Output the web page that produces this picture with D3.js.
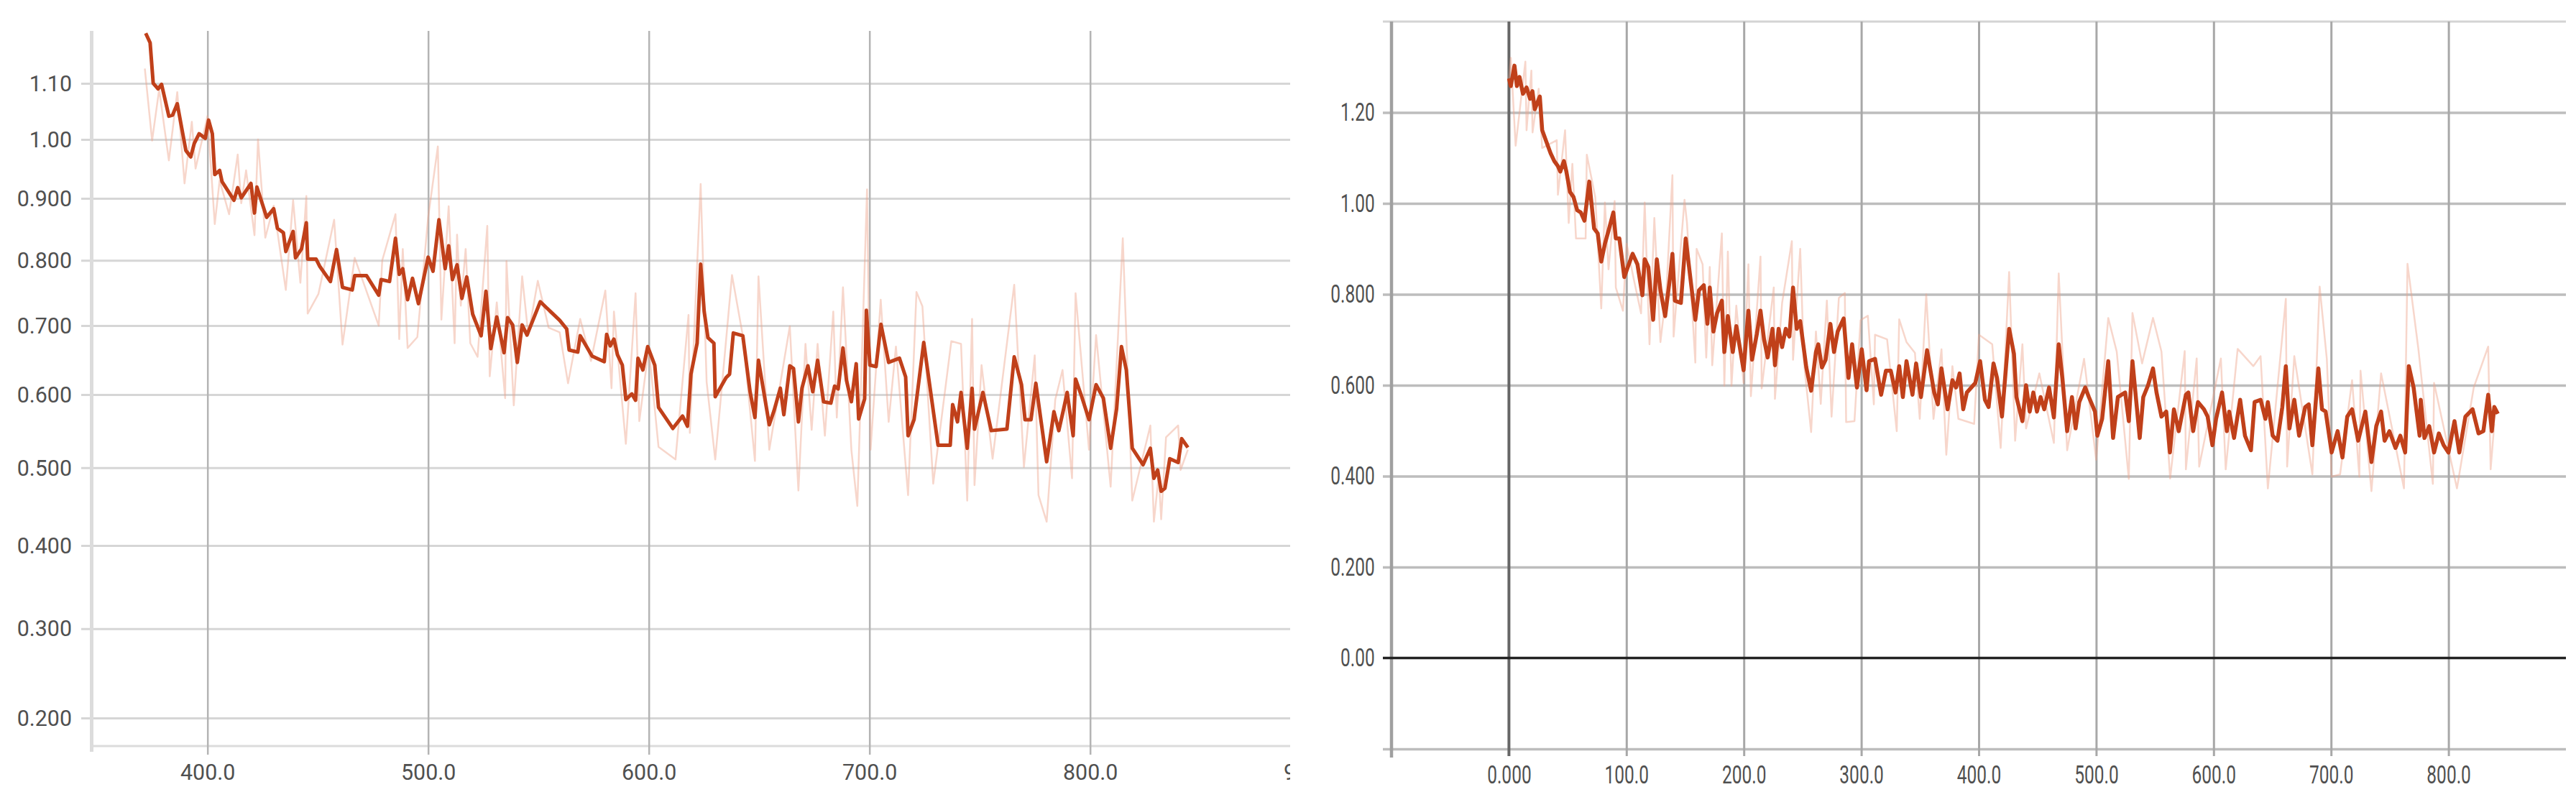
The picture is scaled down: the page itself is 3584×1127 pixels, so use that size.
<!DOCTYPE html>
<html>
<head>
<meta charset="utf-8">
<script src="https://cdn.jsdelivr.net/npm/d3@7"></script>
<style>
  body { margin: 0; background: #fff; }
  svg { display: block; }
</style>
</head>
<body>
<div class="visHolder"></div>
<script>
const width = 3584;
const height = 1127;

// ---- left panel: run on a modified-log y axis ----
const leftXTicks = [400, 500, 600, 700, 800, 900];
const leftYTicks = [0.2, 0.3, 0.4, 0.5, 0.6, 0.7, 0.8, 0.9, 1.0, 1.1];

const leftSteps = [372, 374, 375.4, 377.6, 379.2, 382.5, 384.2, 386.3, 390.2, 392.4, 394, 396.2, 399, 400.5, 402.2, 403.3, 405.5, 406.6, 412, 413.7, 415.3, 419.7, 421.3, 422.4, 426.8, 430, 431.7, 434.4, 435.5, 438.8, 439.9, 442.6, 444.8, 445.4, 449.2, 450.8, 455.7, 458.5, 461.2, 465.6, 466.7, 472.1, 477.6, 478.7, 482.5, 485.2, 486.9, 488.5, 490.7, 492.9, 495.6, 500, 502.2, 504.9, 507.7, 509.3, 511, 513.1, 515.3, 517.5, 520.2, 524, 526.2, 528.4, 531.1, 534.4, 536, 538.3, 540.4, 542.6, 544.8, 550.8, 559.6, 562.8, 563.9, 567.8, 568.9, 574.3, 579.8, 580.9, 582.5, 584.2, 585.8, 588, 589.6, 592.3, 594, 595.1, 597.3, 599.5, 602.7, 604.4, 610.9, 615.3, 617.5, 619.1, 621.9, 623.5, 625.1, 626.8, 629.5, 630.1, 635, 636.6, 638.3, 642.6, 645.9, 648.1, 649.7, 654.6, 656.8, 659.6, 661.2, 663.9, 665.6, 667.8, 669.4, 672.1, 674.3, 676.5, 679.2, 682.5, 684.2, 685.8, 688, 689.6, 691.8, 694, 695.1, 697.8, 698.6, 700.2, 703, 705.2, 708.7, 713.6, 716.4, 717.5, 720.2, 724.6, 731.1, 736.6, 737.7, 739.9, 741.5, 744.3, 746.5, 747.6, 751.4, 755.2, 762.3, 765.6, 768.9, 770.5, 773.2, 775.4, 780.3, 783.6, 785.8, 788, 789.6, 792.3, 793.4, 796.2, 799.5, 802.7, 806, 809.3, 812, 814.2, 816.4, 819.1, 824, 827.3, 828.9, 830.6, 832.2, 833.9, 836.1, 839.9, 841.5, 844.3];
const leftSmooth = [1.193, 1.175, 1.100, 1.090, 1.098, 1.041, 1.043, 1.063, 0.981, 0.970, 0.993, 1.010, 1.002, 1.034, 1.010, 0.940, 0.947, 0.928, 0.897, 0.918, 0.901, 0.925, 0.876, 0.919, 0.869, 0.883, 0.851, 0.844, 0.814, 0.846, 0.804, 0.818, 0.860, 0.802, 0.802, 0.791, 0.767, 0.817, 0.758, 0.754, 0.776, 0.776, 0.746, 0.770, 0.767, 0.835, 0.778, 0.787, 0.739, 0.772, 0.733, 0.805, 0.783, 0.865, 0.787, 0.823, 0.770, 0.793, 0.741, 0.774, 0.717, 0.685, 0.752, 0.666, 0.713, 0.660, 0.712, 0.701, 0.646, 0.701, 0.686, 0.736, 0.708, 0.695, 0.664, 0.661, 0.685, 0.655, 0.647, 0.687, 0.670, 0.680, 0.657, 0.642, 0.593, 0.601, 0.592, 0.652, 0.635, 0.669, 0.642, 0.582, 0.553, 0.570, 0.556, 0.629, 0.674, 0.794, 0.721, 0.682, 0.674, 0.597, 0.624, 0.629, 0.689, 0.685, 0.604, 0.568, 0.649, 0.558, 0.578, 0.609, 0.572, 0.641, 0.637, 0.562, 0.609, 0.641, 0.604, 0.649, 0.590, 0.588, 0.612, 0.608, 0.667, 0.620, 0.590, 0.644, 0.566, 0.594, 0.723, 0.642, 0.640, 0.702, 0.646, 0.652, 0.625, 0.543, 0.565, 0.675, 0.530, 0.530, 0.586, 0.562, 0.603, 0.526, 0.609, 0.552, 0.603, 0.550, 0.552, 0.654, 0.614, 0.565, 0.565, 0.616, 0.508, 0.576, 0.550, 0.580, 0.603, 0.543, 0.622, 0.597, 0.565, 0.614, 0.595, 0.526, 0.580, 0.669, 0.635, 0.526, 0.504, 0.526, 0.486, 0.497, 0.469, 0.473, 0.512, 0.507, 0.539, 0.527];

const leftRawSteps = [371.6, 374.9, 378.1, 382.5, 386.3, 389.6, 392.9, 394.6, 400, 403.3, 405.5, 409.8, 413.7, 415.3, 417.5, 421.3, 422.9, 426.2, 430, 435.5, 438.8, 442.1, 444.8, 445.4, 450.3, 457.4, 461.2, 466.7, 477.6, 479.2, 485.2, 486.9, 488.5, 490.7, 495.1, 500, 504.4, 506, 509.3, 512, 513.1, 514.8, 517, 519.1, 522.4, 526.8, 527.9, 531.1, 534.9, 535.5, 538.8, 542.6, 545.4, 549.7, 554.6, 559.6, 563.4, 568.9, 573.8, 580.3, 583.1, 584.2, 589.6, 594, 595.7, 600, 604.4, 612.1, 618, 618.6, 623.5, 626.2, 630.1, 637.7, 642.6, 648.1, 649.7, 654.6, 663.9, 667.8, 671, 673.8, 676.5, 679.8, 683.6, 685.2, 688, 691.8, 694.5, 698.9, 700.5, 705.1, 708.7, 712, 717.5, 721.3, 724, 728.9, 737.1, 741.5, 744.3, 746.5, 747.6, 750.8, 755.8, 765.6, 770, 774.9, 776.6, 780.3, 784.2, 787.5, 791.8, 793.4, 799.5, 802.7, 809.3, 814.8, 819.1, 827.3, 828.9, 831.1, 832.2, 834.4, 839.9, 841, 844.3];
const leftRaw = [1.127, 0.998, 1.089, 0.964, 1.084, 0.925, 1.031, 0.950, 1.041, 0.858, 0.930, 0.874, 0.974, 0.892, 0.947, 0.840, 1.000, 0.836, 0.888, 0.754, 0.897, 0.765, 0.904, 0.718, 0.748, 0.865, 0.672, 0.804, 0.700, 0.800, 0.874, 0.680, 0.818, 0.667, 0.683, 0.869, 0.988, 0.709, 0.887, 0.674, 0.841, 0.730, 0.818, 0.674, 0.654, 0.855, 0.626, 0.735, 0.595, 0.799, 0.585, 0.775, 0.686, 0.768, 0.697, 0.690, 0.616, 0.710, 0.648, 0.753, 0.609, 0.721, 0.532, 0.749, 0.563, 0.667, 0.528, 0.511, 0.716, 0.547, 0.924, 0.618, 0.511, 0.777, 0.685, 0.509, 0.775, 0.524, 0.699, 0.470, 0.673, 0.551, 0.673, 0.543, 0.721, 0.568, 0.758, 0.524, 0.450, 0.915, 0.524, 0.739, 0.562, 0.669, 0.464, 0.751, 0.729, 0.479, 0.677, 0.673, 0.457, 0.710, 0.477, 0.642, 0.512, 0.762, 0.501, 0.656, 0.464, 0.430, 0.593, 0.635, 0.486, 0.749, 0.524, 0.686, 0.475, 0.835, 0.457, 0.557, 0.430, 0.490, 0.433, 0.541, 0.557, 0.497, 0.524];

// ---- right panel: run from step 0 on a linear y axis ----
const rightXTicks = [0, 100, 200, 300, 400, 500, 600, 700, 800];
const rightYTicks = [0, 0.2, 0.4, 0.6, 0.8, 1.0, 1.2];

const rightSteps = [0, 1.6, 4.7, 6.8, 9, 11.9, 15, 18, 20, 22, 26.3, 28.3, 31.4, 35.5, 38.6, 41.7, 43.7, 46.8, 48.9, 52, 55, 58.1, 61.2, 64.3, 68.4, 72.5, 75.6, 78.6, 81.7, 84.8, 88.9, 91, 94, 98.2, 101.2, 105.3, 109.4, 113.6, 115.6, 118.7, 122.8, 125.9, 129, 133, 137.2, 139.2, 141.3, 146.4, 150.5, 153.6, 158.7, 161.8, 165.9, 169, 171, 174.1, 177.2, 181.3, 183.4, 186.4, 190.6, 193.6, 199.8, 203.9, 207, 211.1, 214.2, 217.2, 220.3, 224.4, 226.5, 229.6, 232.6, 235.7, 238.8, 241.9, 245, 248, 253.2, 257.3, 261.4, 263.4, 266.5, 269.6, 273.7, 276.8, 279.9, 285, 289.1, 292.2, 296.3, 300.4, 304.5, 306.6, 311.7, 316.9, 321, 325.1, 329.2, 332.3, 335.4, 338.5, 343.6, 346.7, 350.8, 356, 362.1, 365.2, 368.3, 373.5, 377.6, 380.7, 383.7, 386.8, 389.9, 397.1, 401.2, 405.3, 408.4, 412.6, 415.6, 419.8, 425.9, 430, 432.1, 437.2, 440.3, 443.4, 446.5, 449.6, 452.7, 455.8, 459.9, 464, 468.1, 471.2, 475.3, 479.4, 482.5, 485.6, 490.7, 493.8, 499, 501, 505.1, 510.3, 514.4, 518.5, 524.7, 527.8, 530.9, 537.1, 540.1, 544.2, 548.4, 551.4, 555.6, 559.7, 562.8, 566.2, 570.3, 576.4, 578.5, 582.6, 586.7, 591.8, 594.9, 599, 602.1, 607.2, 611.3, 613.3, 617.4, 622.6, 626.7, 631.8, 634.9, 640, 644.1, 646.2, 650.3, 654.4, 658.5, 661.5, 664.6, 668.7, 672.8, 678, 681, 684.1, 689.2, 692.3, 695.4, 700.5, 705.6, 709.7, 713.8, 717.9, 723.1, 729.2, 734.4, 738.5, 742.6, 745.6, 749.7, 754.9, 759, 763.1, 766.2, 770.3, 775.4, 776.4, 779.5, 783.6, 787.7, 791.8, 795.9, 800, 805.1, 809.2, 814.4, 820.5, 825.6, 829.7, 833.8, 836.9, 839, 842];
const rightSmooth = [1.275, 1.258, 1.303, 1.258, 1.278, 1.241, 1.255, 1.230, 1.247, 1.207, 1.235, 1.161, 1.139, 1.110, 1.093, 1.082, 1.070, 1.093, 1.070, 1.025, 1.014, 0.985, 0.980, 0.962, 1.048, 0.945, 0.934, 0.872, 0.911, 0.940, 0.980, 0.923, 0.923, 0.838, 0.860, 0.889, 0.866, 0.798, 0.877, 0.860, 0.744, 0.877, 0.809, 0.752, 0.838, 0.889, 0.786, 0.781, 0.923, 0.855, 0.744, 0.809, 0.820, 0.735, 0.815, 0.718, 0.758, 0.786, 0.673, 0.752, 0.673, 0.730, 0.633, 0.764, 0.656, 0.713, 0.764, 0.701, 0.661, 0.724, 0.644, 0.724, 0.684, 0.724, 0.707, 0.815, 0.724, 0.741, 0.639, 0.588, 0.673, 0.690, 0.639, 0.656, 0.735, 0.673, 0.718, 0.747, 0.616, 0.690, 0.595, 0.679, 0.589, 0.653, 0.658, 0.579, 0.632, 0.632, 0.584, 0.642, 0.574, 0.653, 0.579, 0.648, 0.574, 0.677, 0.584, 0.558, 0.637, 0.547, 0.611, 0.595, 0.626, 0.547, 0.584, 0.605, 0.653, 0.568, 0.552, 0.648, 0.616, 0.531, 0.724, 0.669, 0.574, 0.521, 0.600, 0.542, 0.584, 0.542, 0.574, 0.547, 0.595, 0.529, 0.690, 0.616, 0.499, 0.574, 0.505, 0.563, 0.595, 0.574, 0.542, 0.489, 0.526, 0.653, 0.484, 0.574, 0.584, 0.521, 0.653, 0.484, 0.574, 0.600, 0.637, 0.584, 0.531, 0.542, 0.452, 0.547, 0.499, 0.579, 0.584, 0.499, 0.563, 0.547, 0.531, 0.468, 0.526, 0.584, 0.499, 0.542, 0.484, 0.568, 0.489, 0.457, 0.563, 0.568, 0.526, 0.563, 0.489, 0.478, 0.552, 0.642, 0.505, 0.568, 0.489, 0.552, 0.558, 0.468, 0.637, 0.547, 0.542, 0.452, 0.499, 0.441, 0.531, 0.547, 0.478, 0.542, 0.431, 0.510, 0.542, 0.478, 0.499, 0.462, 0.489, 0.452, 0.642, 0.595, 0.489, 0.568, 0.484, 0.510, 0.452, 0.494, 0.468, 0.452, 0.521, 0.452, 0.531, 0.547, 0.494, 0.499, 0.579, 0.499, 0.552, 0.537];

const rightRawSteps = [0, 1.6, 5.7, 14, 15, 19.1, 20.1, 25.3, 28.3, 40.7, 41.7, 47.8, 50.9, 54, 57.1, 65.3, 66.3, 73.5, 78.6, 81.7, 84.8, 90, 91, 97.1, 100.2, 106.4, 112.5, 115.6, 119.7, 123.8, 129, 134.1, 139.2, 140.2, 149.5, 151.6, 158.7, 159.8, 164.9, 168, 171, 173.1, 181.3, 183.4, 186.4, 189.5, 193.6, 199.8, 203.9, 206, 214.2, 215.2, 225.5, 226.5, 232.6, 240.9, 241.9, 248, 251.2, 257.3, 261.4, 265.5, 270.7, 274.7, 280.9, 286, 287.1, 294.2, 299.4, 305.6, 310.7, 311.7, 322, 330.2, 332.3, 338.5, 345.7, 349.8, 355.3, 361.5, 368.3, 372.4, 377.6, 382.7, 396.1, 400.2, 411.5, 418.7, 425.9, 431, 437.2, 440.3, 451.6, 464, 468.1, 475.3, 489.7, 500, 510.3, 517.5, 527.8, 530.9, 539.1, 548.4, 555.6, 563, 575.4, 576.4, 585.6, 587.7, 606.2, 610.3, 620.5, 633.8, 640, 646.2, 661.5, 662.6, 668.7, 684.1, 690.3, 696.4, 700.5, 707.7, 717.9, 724.1, 725.1, 734.4, 742.6, 762.1, 765.1, 774.4, 786.7, 787.7, 807.2, 821.5, 833.8, 835.9, 839];
const rightRaw = [1.27, 1.32, 1.127, 1.312, 1.161, 1.292, 1.156, 1.252, 1.122, 1.139, 1.019, 1.161, 0.957, 1.087, 0.923, 0.923, 1.107, 1.014, 0.769, 1.002, 0.855, 1.005, 0.815, 0.764, 0.911, 0.832, 0.758, 1.002, 0.690, 0.968, 0.695, 0.809, 1.062, 0.707, 1.008, 0.957, 0.650, 0.900, 0.866, 0.661, 0.860, 0.644, 0.934, 0.599, 0.894, 0.599, 0.775, 0.605, 0.866, 0.576, 0.883, 0.593, 0.815, 0.570, 0.781, 0.917, 0.656, 0.900, 0.650, 0.497, 0.718, 0.559, 0.786, 0.531, 0.792, 0.803, 0.519, 0.521, 0.743, 0.753, 0.558, 0.711, 0.701, 0.499, 0.745, 0.695, 0.671, 0.526, 0.800, 0.526, 0.679, 0.447, 0.642, 0.526, 0.515, 0.711, 0.690, 0.462, 0.849, 0.478, 0.690, 0.505, 0.626, 0.473, 0.846, 0.457, 0.658, 0.436, 0.748, 0.674, 0.394, 0.759, 0.648, 0.748, 0.674, 0.395, 0.675, 0.415, 0.659, 0.421, 0.659, 0.415, 0.680, 0.642, 0.664, 0.373, 0.790, 0.421, 0.664, 0.404, 0.817, 0.658, 0.399, 0.404, 0.611, 0.399, 0.632, 0.367, 0.626, 0.373, 0.867, 0.679, 0.383, 0.605, 0.373, 0.595, 0.685, 0.415, 0.515];

const smoothColor = "#c0401a";
const rawColor = "#eea58c";
const labelColor = "#505050";

let svg = d3
    .select(".visHolder")
    .append("svg")
    .attr("width", width)
    .attr("height", height);

svg.append("rect").attr("width", width).attr("height", height).attr("fill", "#fff");

// squeeze or stretch tick text sideways, like the screenshot
function styleLabels(g, size, sx, pad, side) {
    g.select(".domain").remove();
    g.attr("font-family", "Roboto, 'Open Sans', sans-serif").attr("font-size", size);
    g.selectAll("text")
        .attr("fill", labelColor)
        .attr("transform", `scale(${sx},1)`);
    if (side === "left") g.selectAll("text").attr("x", -pad / sx);
}

function drawGrid(g, color, w) {
    g.select(".domain").remove();
    g.selectAll("line").attr("stroke", color).attr("stroke-width", w);
}

// ===================== LEFT PANEL =====================
svg.append("clipPath")
    .attr("id", "leftClip")
    .append("rect")
    .attr("x", 0).attr("y", 0)
    .attr("width", 1795).attr("height", height);

const left = svg.append("g").attr("clip-path", "url(#leftClip)");

const xL = d3.scaleLinear().domain([347.5, 900]).range([127.5, 1823.7]);
// TensorBoard's modified log: log(1 + 0.9x) == symlog with constant 1/0.9
const yL = d3.scaleSymlog().constant(10 / 9).domain([0.170, 1.1975]).range([1038, 43]);

left.append("g")
    .attr("transform", "translate(113,0)")
    .call(d3.axisLeft(yL).tickValues(leftYTicks).tickSize(-(1795 - 113)).tickFormat(""))
    .call(drawGrid, "#d6d6d6", 3);

left.append("line")
    .attr("x1", 125).attr("x2", 1795)
    .attr("y1", 1038).attr("y2", 1038)
    .attr("stroke", "#dcdcdc").attr("stroke-width", 3);

left.append("g")
    .attr("transform", "translate(0,1050)")
    .call(d3.axisBottom(xL).tickValues(leftXTicks).tickSize(-(1050 - 43)).tickFormat(""))
    .call(drawGrid, "#b4b4b4", 2.5);

left.append("line")
    .attr("x1", xL(347.5)).attr("x2", xL(347.5))
    .attr("y1", 43).attr("y2", 1046)
    .attr("stroke", "#dcdcdc").attr("stroke-width", 5);

left.append("g")
    .attr("transform", "translate(127.7,0)")
    .call(d3.axisLeft(yL).tickValues(leftYTicks).tickSize(0).tickPadding(27.7).tickFormat(d3.format(".3r")))
    .call(styleLabels, 32, 0.95, 27.7, "left");

left.append("g")
    .attr("transform", "translate(0,1038)")
    .call(d3.axisBottom(xL).tickValues(leftXTicks).tickSize(0).tickPadding(24).tickFormat(d3.format(".4r")))
    .call(styleLabels, 32, 0.95, 24, "bottom");

const lineL = d3.line().x((d) => xL(d[0])).y((d) => yL(d[1]));

left.append("path")
    .datum(d3.zip(leftRawSteps, leftRaw))
    .attr("d", lineL)
    .attr("fill", "none")
    .attr("stroke", rawColor)
    .attr("stroke-opacity", 0.45)
    .attr("stroke-width", 2.5)
    .attr("stroke-linejoin", "round");

left.append("path")
    .datum(d3.zip(leftSteps, leftSmooth))
    .attr("d", lineL)
    .attr("fill", "none")
    .attr("stroke", smoothColor)
    .attr("stroke-width", 5)
    .attr("stroke-linejoin", "round");

// ===================== RIGHT PANEL =====================
const right = svg.append("g");

const xR = d3.scaleLinear().domain([-100, 900]).range([1936, 3570]);
const yR = d3.scaleLinear().domain([-0.2, 1.4]).range([1042, 30]);

right.append("g")
    .attr("transform", "translate(1924,0)")
    .call(d3.axisLeft(yR).tickValues([-0.2, 0.2, 0.4, 0.6, 0.8, 1.0, 1.2]).tickSize(-(3570 - 1924)).tickFormat(""))
    .call(drawGrid, "#bdbdbd", 3.5);

right.append("line")
    .attr("x1", 1924).attr("x2", 3570)
    .attr("y1", yR(1.4)).attr("y2", yR(1.4))
    .attr("stroke", "#d4d4d4").attr("stroke-width", 3);

right.append("g")
    .attr("transform", "translate(0,1052)")
    .call(d3.axisBottom(xR).tickValues([100, 200, 300, 400, 500, 600, 700, 800]).tickSize(-(1052 - 30)).tickFormat(""))
    .call(drawGrid, "#a8a8a8", 3);

right.append("line")
    .attr("x1", xR(-100)).attr("x2", xR(-100))
    .attr("y1", 30).attr("y2", 1054)
    .attr("stroke", "#a0a0a0").attr("stroke-width", 4.5);

right.append("line")
    .attr("x1", xR(0)).attr("x2", xR(0))
    .attr("y1", 30).attr("y2", 1052)
    .attr("stroke", "#666").attr("stroke-width", 4);

right.append("line")
    .attr("x1", 1924).attr("x2", 3570)
    .attr("y1", yR(0)).attr("y2", yR(0))
    .attr("stroke", "#222").attr("stroke-width", 3.5);

right.append("g")
    .attr("transform", "translate(1936,0)")
    .call(d3.axisLeft(yR).tickValues(rightYTicks).tickSize(0).tickPadding(23.3).tickFormat(d3.format(".3r")))
    .call(styleLabels, 35, 0.7, 23.3, "left");

right.append("g")
    .attr("transform", "translate(0,1042)")
    .call(d3.axisBottom(xR).tickValues(rightXTicks).tickSize(0).tickPadding(23).tickFormat(d3.format(".4r")))
    .call(styleLabels, 35, 0.7, 23, "bottom");

const lineR = d3.line().x((d) => xR(d[0])).y((d) => yR(d[1]));

right.append("path")
    .datum(d3.zip(rightRawSteps, rightRaw))
    .attr("d", lineR)
    .attr("fill", "none")
    .attr("stroke", rawColor)
    .attr("stroke-opacity", 0.45)
    .attr("stroke-width", 2.5)
    .attr("stroke-linejoin", "round");

right.append("path")
    .datum(d3.zip(rightSteps, rightSmooth))
    .attr("d", lineR)
    .attr("fill", "none")
    .attr("stroke", smoothColor)
    .attr("stroke-width", 5.5)
    .attr("stroke-linejoin", "round");
</script>
</body>
</html>
